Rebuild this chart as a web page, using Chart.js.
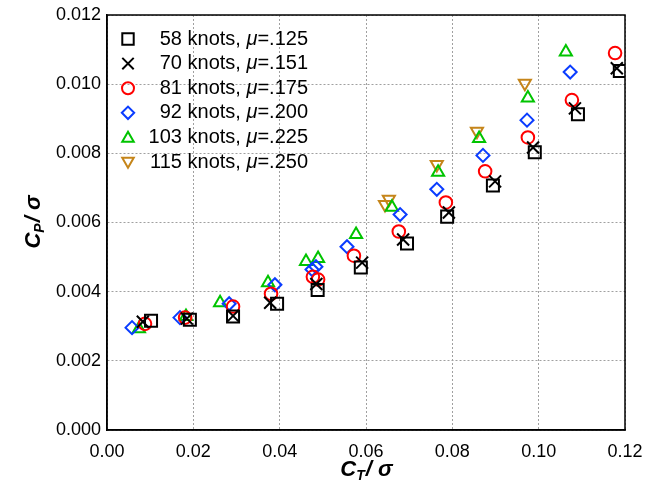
<!DOCTYPE html>
<html>
<head>
<meta charset="utf-8">
<script src="https://cdn.jsdelivr.net/npm/chart.js@4"></script>
<style>
  html, body { margin: 0; padding: 0; background: #fff; }
  #wrap { width: 647px; height: 485px; }
</style>
</head>
<body>
<div id="wrap"><canvas id="myChart1" width="647" height="485"></canvas></div>
<script>
// series values
var knots = ["58", "70", "81", "92", "103", "115"];
var mus = [".125", ".151", ".175", ".200", ".225", ".250"];

var sqX = [0.0102, 0.0192, 0.0292, 0.0394, 0.0488, 0.0588, 0.0695, 0.0788, 0.0894, 0.0991, 0.1091, 0.1188];
var sqY = [0.00316, 0.00319, 0.00328, 0.00365, 0.00405, 0.00470, 0.00539, 0.00617, 0.00707, 0.00803, 0.00913, 0.01038];

var crX = [0.0083, 0.0185, 0.0292, 0.0378, 0.0485, 0.0591, 0.0686, 0.0792, 0.0899, 0.0987, 0.1084, 0.1181];
var crY = [0.00313, 0.00322, 0.00330, 0.00368, 0.00422, 0.00484, 0.00551, 0.00629, 0.00719, 0.00817, 0.00930, 0.01046];

var ciX = [0.0088, 0.0181, 0.0292, 0.0380, 0.0477, 0.0489, 0.0572, 0.0676, 0.0785, 0.0876, 0.0975, 0.1077, 0.1177];
var ciY = [0.00307, 0.00325, 0.00357, 0.00394, 0.00443, 0.00435, 0.00504, 0.00574, 0.00658, 0.00748, 0.00846, 0.00954, 0.01090];

var diX = [0.0058, 0.0169, 0.0283, 0.0389, 0.0475, 0.0484, 0.0556, 0.0679, 0.0764, 0.0871, 0.0973, 0.1073];
var diY = [0.00296, 0.00325, 0.00365, 0.00420, 0.00464, 0.00472, 0.00530, 0.00623, 0.00696, 0.00794, 0.00896, 0.01035];

var trX = [0.0074, 0.0183, 0.0262, 0.0373, 0.0461, 0.0489, 0.0577, 0.0660, 0.0767, 0.0862, 0.0975, 0.1063];
var trY = [0.00293, 0.00328, 0.00368, 0.00426, 0.00487, 0.00496, 0.00565, 0.00644, 0.00745, 0.00843, 0.00960, 0.01093];

var dnX = [0.0644, 0.0653, 0.0764, 0.0857, 0.0968];
var dnY = [0.00652, 0.00667, 0.00768, 0.00864, 0.01003];

var xTicks = [0, 0.02, 0.04, 0.06, 0.08, 0.10, 0.12];
var yTicks = [0, 0.002, 0.004, 0.006, 0.008, 0.010, 0.012];

function pts(xs, ys) {
  return xs.map(function (x, i) { return { x: x, y: ys[i] }; });
}

var FONT = "'Liberation Sans', Arial, Helvetica, sans-serif";

var styles = [
  { color: "#000000", pointStyle: "rect", radius: 8.5, rotation: 0 },
  { color: "#000000", pointStyle: "crossRot", radius: 8.5, rotation: 0 },
  { color: "#ff0000", pointStyle: "circle", radius: 6.3, rotation: 0 },
  { color: "#0a3cff", pointStyle: "rectRot", radius: 6.5, rotation: 0 },
  { color: "#00c400", pointStyle: "triangle", radius: 7, rotation: 0 },
  { color: "#c5851a", pointStyle: "triangle", radius: 7, rotation: 180 }
];
var series = [pts(sqX, sqY), pts(crX, crY), pts(ciX, ciY), pts(diX, diY), pts(trX, trY), pts(dnX, dnY)];

var datasets = series.map(function (d, i) {
  var s = styles[i];
  return {
    label: knots[i] + " knots",
    data: d,
    showLine: false,
    pointStyle: s.pointStyle,
    pointRadius: s.radius,
    pointHoverRadius: s.radius,
    pointRotation: s.rotation,
    pointBorderWidth: 2,
    pointBorderColor: s.color,
    pointBackgroundColor: "rgba(0,0,0,0)",
    borderColor: s.color,
    backgroundColor: "rgba(0,0,0,0)"
  };
});

// legend with right aligned text and italic mu
var legendPlugin = {
  id: "knotLegend",
  afterDatasetsDraw: function (chart) {
    var ctx = chart.ctx;
    var size = 20;
    ctx.save();
    for (var i = 0; i < knots.length; i++) {
      var s = styles[i];
      var y = 39 + i * 24.6;
      ctx.lineWidth = 2;
      ctx.fillStyle = "rgba(0,0,0,0)";
      ctx.strokeStyle = s.color;
      Chart.helpers.drawPoint(ctx, {
        pointStyle: s.pointStyle, radius: s.radius * 0.95, rotation: s.rotation, borderWidth: 2
      }, 128, y + (s.pointStyle === "triangle" ? (s.rotation ? -1 : 1) : 0));

      ctx.fillStyle = "#000";
      ctx.textBaseline = "middle";
      ctx.textAlign = "left";
      var tail = "=" + mus[i];
      var head = knots[i] + " knots, ";
      ctx.font = size + "px " + FONT;
      var wTail = ctx.measureText(tail).width;
      var wHead = ctx.measureText(head).width;
      ctx.font = "italic " + size + "px " + FONT;
      var wMu = ctx.measureText("\u03bc").width;
      var right = 308;
      var x0 = right - wTail - wMu - wHead;
      ctx.font = size + "px " + FONT;
      ctx.fillText(head, x0, y);
      ctx.font = "italic " + size + "px " + FONT;
      ctx.fillText("\u03bc", x0 + wHead, y);
      ctx.font = size + "px " + FONT;
      ctx.fillText(tail, x0 + wHead + wMu, y);
    }
    ctx.restore();
  }
};

// axis titles with subscripts
function drawTitle(ctx, sub, cx, cy) {
  ctx.font = "bold italic 22px " + FONT;
  var wC = ctx.measureText("C").width;
  ctx.font = "bold italic 14px " + FONT;
  var wS = ctx.measureText(sub).width;
  ctx.font = "bold italic 22px " + FONT;
  var wR = ctx.measureText("/ \u03c3").width;
  var x = cx - (wC + wS + wR) / 2;
  ctx.textBaseline = "alphabetic";
  ctx.textAlign = "left";
  ctx.fillStyle = "#000";
  ctx.fillText("C", x, cy + 8);
  ctx.font = "bold italic 14px " + FONT;
  ctx.fillText(sub, x + wC, cy + 12);
  ctx.font = "bold italic 22px " + FONT;
  ctx.fillText("/ \u03c3", x + wC + wS + 1, cy + 8);
}

var titlePlugin = {
  id: "axisTitles",
  afterDraw: function (chart) {
    var ctx = chart.ctx;
    var a = chart.chartArea;
    ctx.save();
    drawTitle(ctx, "T", (a.left + a.right) / 2, 468);
    ctx.translate(32, (a.top + a.bottom) / 2);
    ctx.rotate(-Math.PI / 2);
    drawTitle(ctx, "P", 0, 0);
    ctx.restore();
  }
};

var ctx = document.getElementById("myChart1");
var myChart = new Chart(ctx, {
  type: "scatter",
  data: { datasets: datasets },
  options: {
    responsive: false,
    animation: false,
    layout: { padding: { left: 0, right: 22, top: 15, bottom: 0 } },
    plugins: { legend: { display: false }, tooltip: { enabled: false } },
    scales: {
      x: {
        type: "linear",
        min: 0, max: 0.12,
        afterBuildTicks: function (s) { s.ticks = xTicks.map(function (v) { return { value: v }; }); },
        afterFit: function (s) { s.height = 55; s.paddingLeft = 0; s.paddingRight = 0; },
        ticks: {
          color: "#000", padding: 11,
          font: { family: FONT, size: 18 },
          maxRotation: 0,
          callback: function (v) { return v.toFixed(2); }
        },
        grid: { color: "#a0a0a0", drawTicks: false, lineWidth: 1 },
        border: { display: true, color: "#000", width: 1.5, dash: [2, 2] }
      },
      y: {
        type: "linear",
        min: 0, max: 0.012,
        afterBuildTicks: function (s) { s.ticks = yTicks.map(function (v) { return { value: v }; }); },
        afterFit: function (s) { s.width = 107; s.paddingTop = 0; s.paddingBottom = 0; },
        ticks: {
          color: "#000", padding: 6,
          font: { family: FONT, size: 18 },
          callback: function (v) { return v.toFixed(3); }
        },
        grid: { color: "#a0a0a0", drawTicks: false, lineWidth: 1 },
        border: { display: true, color: "#000", width: 1.5, dash: [2, 2] }
      }
    }
  },
  plugins: [{
    id: "frame",
    beforeDatasetsDraw: function (chart) {
      var c = chart.ctx, a = chart.chartArea;
      c.save();
      c.strokeStyle = "#000";
      c.lineWidth = 1.5;
      c.strokeRect(a.left, a.top, a.right - a.left, a.bottom - a.top);
      c.restore();
    }
  }, legendPlugin, titlePlugin]
});
</script>
</body>
</html>
